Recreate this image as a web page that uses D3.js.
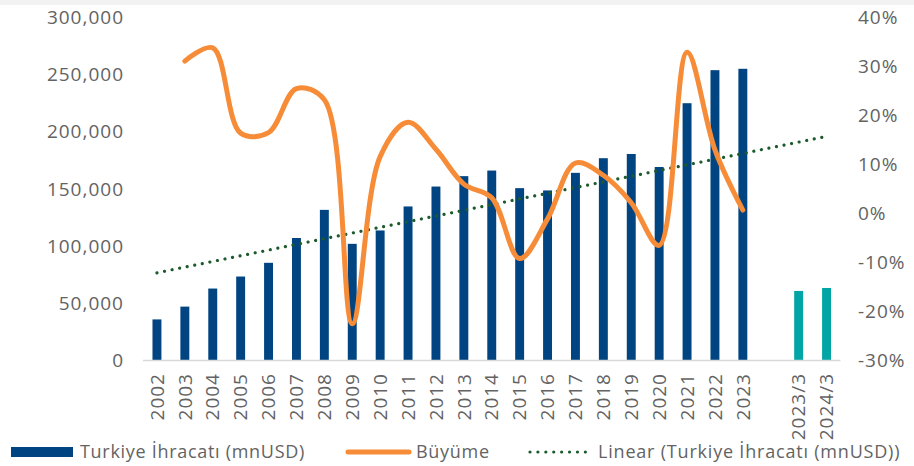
<!DOCTYPE html>
<html>
<head>
<meta charset="utf-8">
<script src="https://cdn.jsdelivr.net/npm/d3@7"></script>
<style>
  body { margin: 0; background: #fff; }
  text { font-family: "Open Sans", sans-serif; fill: #636363; }
</style>
</head>
<body>
<script>
// yearly categories, the gap and the quarterly ones
const years = ["2002", "2003", "2004", "2005", "2006", "2007", "2008", "2009", "2010", "2011", "2012",
  "2013", "2014", "2015", "2016", "2017", "2018", "2019", "2020", "2021", "2022", "2023"];
const quarters = ["2023/3", "2024/3"];
const gapKey = " ";

// exports, mn USD
const exportsYearly = [35500, 46700, 62500, 73000, 85000, 106700, 131300, 101600, 113300, 134300, 151700,
  160800, 165700, 150300, 148300, 163700, 176500, 180200, 168800, 224600, 253500, 254700];
const exportsQuarterly = [60400, 63000];

// growth %, from 2003
const growthYears = years.slice(1);
const growth = [31.0, 33.7, 16.3, 16.4, 25.4, 23.1, -22.6, 11.5, 18.5, 13.0, 5.9, 3.1, -9.3, -1.2,
  10.2, 7.7, 2.1, -6.6, 32.8, 12.9, 0.6];

const leftTicks = [0, 50000, 100000, 150000, 200000, 250000, 300000];
const rightTicks = [-30, -20, -10, 0, 10, 20, 30, 40];

const W = 914, H = 466;
const plot = { left: 143, right: 840.5, top: 17, bottom: 360 };
const blue = "#004481", teal = "#02a5a5", orange = "#f78c38", green = "#1d5a2b";

const categories = years.concat([gapKey], quarters);

const svg = d3.select("body").append("svg").attr("width", W).attr("height", H);

svg.append("rect").attr("x", 0).attr("y", 0).attr("width", W).attr("height", 5).attr("fill", "#f2f2f2");

const x = d3.scaleBand().domain(categories).range([plot.left, plot.right])
  .paddingInner(0.68).paddingOuter(0.34);
const cx = (c) => x(c) + x.bandwidth() / 2;
const y = d3.scaleLinear().domain([0, 300000]).range([plot.bottom, plot.top]);
const y2 = d3.scaleLinear().domain([-30, 40]).range([plot.bottom, plot.top]);

// left axis
const leftAxis = svg.append("g").attr("transform", `translate(${plot.left - 19},0)`)
  .call(d3.axisLeft(y).tickValues(leftTicks).tickSize(0).tickPadding(0).tickFormat(d3.format(",")));
leftAxis.select(".domain").remove();
leftAxis.selectAll("text").attr("font-size", 19).attr("letter-spacing", 1).attr("dy", "0.35em");

// right axis
const rightAxis = svg.append("g").attr("transform", `translate(858,0)`)
  .call(d3.axisRight(y2).tickValues(rightTicks).tickSize(0).tickPadding(0).tickFormat((d) => d + "%"));
rightAxis.select(".domain").remove();
rightAxis.selectAll("text").attr("font-size", 19).attr("letter-spacing", 1).attr("dy", "0.35em");

// bars
const barData = years.map((c, i) => ({ c, v: exportsYearly[i], col: blue }))
  .concat(quarters.map((c, i) => ({ c, v: exportsQuarterly[i], col: teal })));
svg.append("g").selectAll("rect").data(barData).enter().append("rect")
  .attr("x", (d) => x(d.c))
  .attr("width", x.bandwidth())
  .attr("y", (d) => y(d.v))
  .attr("height", (d) => y(0) - y(d.v))
  .attr("fill", (d) => d.col);

// baseline
svg.append("line").attr("x1", plot.left).attr("x2", plot.right)
  .attr("y1", plot.bottom + 0.5).attr("y2", plot.bottom + 0.5)
  .attr("stroke", "#d9d9d9").attr("stroke-width", 1.5);

// category labels
svg.append("g").selectAll("text").data(years.concat(quarters)).enter().append("text")
  .attr("transform", (d) => `translate(${cx(d)},${plot.bottom + 13}) rotate(-90)`)
  .attr("text-anchor", "end")
  .attr("dy", "0.35em")
  .attr("font-size", 19)
  .attr("letter-spacing", 1)
  .text((d) => d);

// linear trendline on category index (blank gap ignored)
const pts = barData.map((d) => ({ i: categories.indexOf(d.c), v: d.v }));
const mx = d3.mean(pts, (p) => p.i), my = d3.mean(pts, (p) => p.v);
const slope = d3.sum(pts, (p) => (p.i - mx) * (p.v - my)) / d3.sum(pts, (p) => (p.i - mx) ** 2);
const icpt = my - slope * mx;
const first = categories[0], last = categories[categories.length - 1];
svg.append("line")
  .attr("x1", cx(first)).attr("y1", y(icpt))
  .attr("x2", cx(last)).attr("y2", y(icpt + slope * (categories.length - 1)))
  .attr("stroke", green).attr("stroke-width", 3.2)
  .attr("stroke-linecap", "round").attr("stroke-dasharray", "0.01 7.7");

// growth line
const line = d3.line().x((d) => cx(d.c)).y((d) => y2(d.g)).curve(d3.curveCatmullRom.alpha(0.5));
svg.append("path")
  .datum(growthYears.map((c, i) => ({ c, g: growth[i] })))
  .attr("d", line)
  .attr("fill", "none").attr("stroke", orange).attr("stroke-width", 5)
  .attr("stroke-linecap", "round").attr("stroke-linejoin", "round");

// legend
const lg = svg.append("g");
lg.append("rect").attr("x", 11).attr("y", 447).attr("width", 62).attr("height", 10).attr("fill", blue);
lg.append("text").attr("x", 80).attr("y", 452).attr("dy", "0.35em").attr("font-size", 18)
  .attr("letter-spacing", 0.7).text("Turkiye İhracatı (mnUSD)");
lg.append("line").attr("x1", 348).attr("x2", 409).attr("y1", 452).attr("y2", 452)
  .attr("stroke", orange).attr("stroke-width", 5).attr("stroke-linecap", "round");
lg.append("text").attr("x", 416).attr("y", 452).attr("dy", "0.35em").attr("font-size", 18)
  .attr("letter-spacing", 0.7).text("Büyüme");
lg.append("line").attr("x1", 530).attr("x2", 586).attr("y1", 452).attr("y2", 452)
  .attr("stroke", green).attr("stroke-width", 3.2)
  .attr("stroke-linecap", "round").attr("stroke-dasharray", "0.01 7.9");
lg.append("text").attr("x", 598).attr("y", 452).attr("dy", "0.35em").attr("font-size", 18)
  .attr("letter-spacing", 0.8).text("Linear (Turkiye İhracatı (mnUSD))");
</script>
</body>
</html>
